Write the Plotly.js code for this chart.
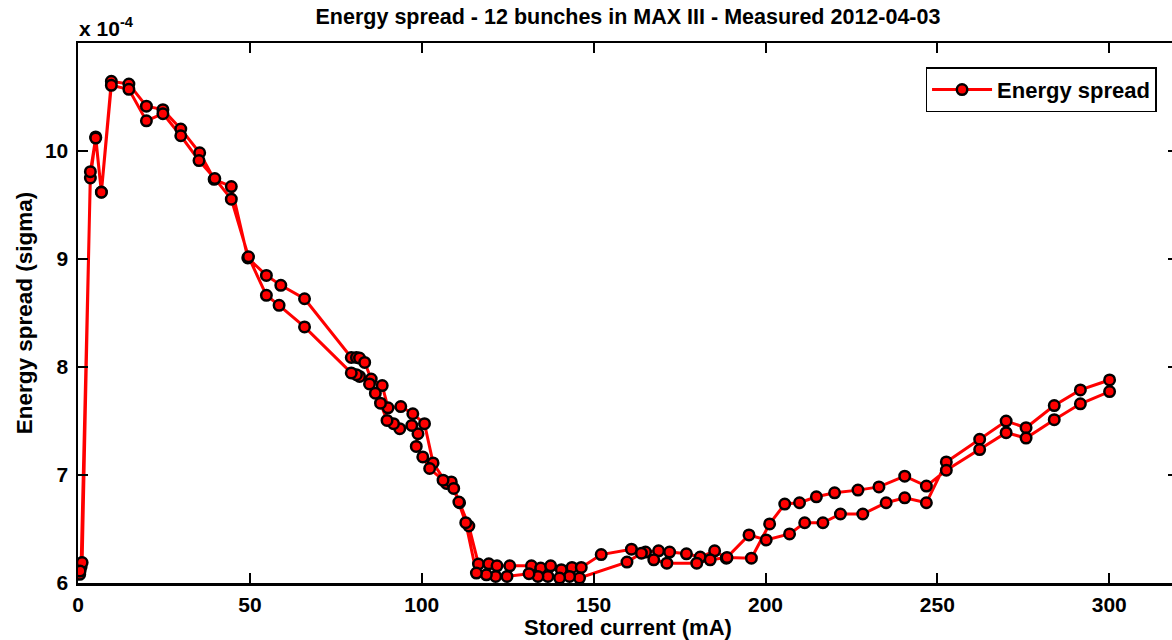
<!DOCTYPE html>
<html>
<head>
<meta charset="utf-8">
<script src="https://cdn.plot.ly/plotly-3.0.1.min.js"></script>
<style>
html, body { margin: 0; padding: 0; overflow: hidden; background: #fff; }
#chart { width: 1180px; height: 640px; }
</style>
</head>
<body>
<div id="chart"></div>
<script>
// Branch measured with increasing current (mA) and energy spread (x 1e-4)
const currentUp = [0.5,0.9,3.6,5.15,6.8,9.7,14.8,19.9,24.7,29.9,35.4,39.6,44.6,49.4,54.8,59.0,65.9,79.5,81.0,81.9,83.4,85.3,88.5,90.2,93.9,97.4,100.8,103.3,107.2,108.6,111.0,113.7,116.5,119.5,121.9,125.6,131.9,134.6,137.5,140.6,143.7,146.4,152.2,161.0,165.1,168.9,172.1,177.0,181.0,185.2,188.6,195.2,200.2,207.0,211.4,216.7,221.8,228.3,235.1,240.5,246.8,252.6,262.3,270.0,275.8,284.0,291.6,300.1];
const spreadUp = [6.08,6.15,9.75,10.13,9.62,10.645,10.62,10.415,10.383,10.203,9.984,9.738,9.671,9.01,8.848,8.756,8.632,8.088,8.088,8.083,8.042,7.889,7.828,7.622,7.634,7.567,7.475,7.112,6.922,6.936,6.743,6.528,6.175,6.178,6.159,6.159,6.159,6.138,6.159,6.123,6.144,6.144,6.263,6.313,6.286,6.298,6.286,6.27,6.24,6.298,6.23,6.445,6.399,6.454,6.558,6.558,6.639,6.639,6.743,6.789,6.743,7.121,7.331,7.499,7.438,7.643,7.788,7.880];
// Branch measured back down
const currentDown = [300.1,291.6,284.0,275.8,270.0,262.3,252.6,246.8,240.5,233.0,226.9,220.1,214.8,209.9,205.6,201.2,195.9,188.8,183.9,180.0,171.3,167.5,163.9,159.7,145.9,143.0,140.1,136.7,133.8,131.2,124.8,121.5,118.8,115.9,112.8,110.8,109.3,106.2,102.3,100.3,98.4,98.9,97.1,93.6,91.8,89.9,88.0,86.5,84.8,81.9,81.0,79.5,65.9,58.5,54.8,49.6,44.6,39.8,35.2,29.9,24.7,19.9,14.8,9.7,6.8,5.15,3.6,1.2,0.6];
const spreadDown = [7.772,7.659,7.512,7.342,7.392,7.235,7.044,6.897,6.989,6.89,6.86,6.835,6.798,6.743,6.731,6.547,6.23,6.235,6.215,6.184,6.184,6.215,6.276,6.194,6.046,6.061,6.046,6.061,6.061,6.086,6.061,6.061,6.076,6.092,6.559,6.75,6.876,6.952,7.06,7.167,7.265,7.382,7.459,7.429,7.475,7.505,7.665,7.757,7.843,7.913,7.929,7.945,8.371,8.571,8.664,9.02,9.554,9.745,9.911,10.141,10.346,10.279,10.571,10.608,9.618,10.12,9.809,6.19,6.11];

const xTicks = [0,50,100,150,200,250,300];
const yTicks = [6,7,8,9,10];

const current = currentUp.concat(currentDown);
const spread = spreadUp.concat(spreadDown);

const FONT = 'Liberation Sans, Arial, Helvetica, sans-serif';

const trace = {
  x: current,
  y: spread,
  type: 'scatter',
  mode: 'lines+markers',
  name: 'Energy spread',
  line: { color: '#ff0000', width: 3 },
  marker: { size: 10.5, color: '#ff0000', line: { color: '#000000', width: 2.5 } }
};

const axisCommon = {
  showgrid: false,
  zeroline: false,
  showline: true,
  linecolor: '#000',
  linewidth: 2.5,
  mirror: 'allticks',
  ticks: 'inside',
  ticklen: 10,
  tickwidth: 2,
  tickcolor: '#000',
  tickfont: { family: FONT, size: 21, color: '#000', weight: 'bold' }
};

const layout = {
  width: 1180,
  height: 640,
  margin: { l: 78, r: 2, t: 43, b: 57 },
  paper_bgcolor: '#fff',
  plot_bgcolor: '#fff',
  showlegend: true,
  title: {
    text: 'Energy spread - 12 bunches in MAX III - Measured 2012-04-03',
    font: { family: FONT, size: 21.5, color: '#000', weight: 'bold' },
    x: 0.5, xref: 'paper', xanchor: 'center',
    y: 0.974, yref: 'container', yanchor: 'middle'
  },
  xaxis: Object.assign({}, axisCommon, {
    range: [0, 320],
    tickvals: xTicks,
    ticktext: xTicks.map(String),
    ticklabelstandoff: 1,
    title: { text: 'Stored current (mA)', font: { family: FONT, size: 22, color: '#000', weight: 'bold' }, standoff: 1 }
  }),
  yaxis: Object.assign({}, axisCommon, {
    range: [6, 11],
    tickvals: yTicks,
    ticktext: yTicks.map(String),
    ticklabelstandoff: 3,
    title: { text: 'Energy spread (sigma)', font: { family: FONT, size: 22.5, color: '#000', weight: 'bold' }, standoff: 6 }
  }),
  legend: {
    x: 0.9805, xanchor: 'right',
    y: 0.955, yanchor: 'top',
    bgcolor: '#fff',
    bordercolor: '#000',
    borderwidth: 1.5,
    itemwidth: 60,
    font: { family: FONT, size: 22, color: '#000', weight: 'bold' }
  },
  annotations: [{
    text: 'x 10<sup>-4</sup>',
    xref: 'paper', yref: 'paper',
    x: 0, y: 1, xanchor: 'left', yanchor: 'bottom',
    xshift: -1, yshift: 1,
    showarrow: false,
    font: { family: FONT, size: 21, color: '#000', weight: 'bold' }
  }]
};

Plotly.newPlot('chart', [trace], layout, { displayModeBar: false, staticPlot: true });
</script>
</body>
</html>
